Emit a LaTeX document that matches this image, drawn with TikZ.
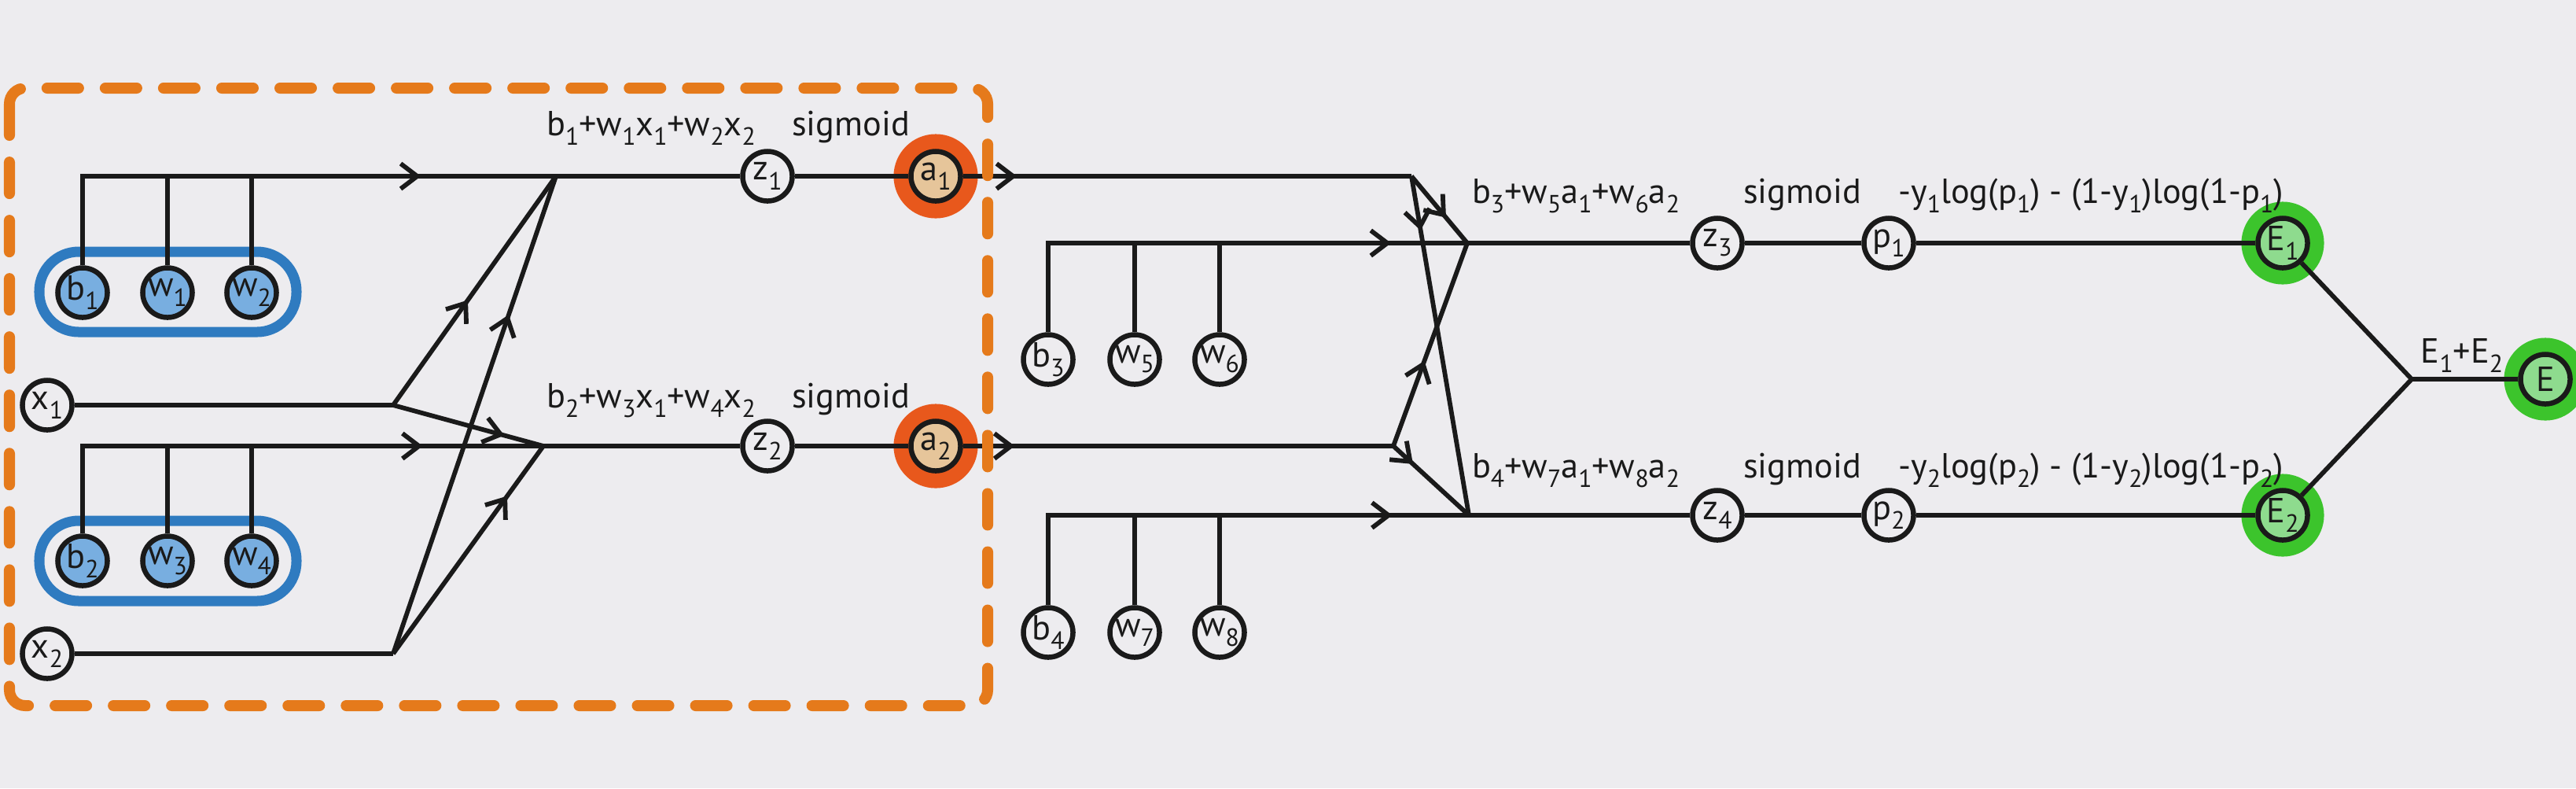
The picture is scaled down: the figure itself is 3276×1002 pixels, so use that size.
\documentclass[tikz,border=0pt]{standalone}
\usepackage{fontspec}
\setmainfont{PT Sans}
\usetikzlibrary{arrows.meta,decorations.markings}
\definecolor{bgc}{HTML}{EDECEF}
\definecolor{dashor}{HTML}{E57A1B}
\definecolor{ringor}{HTML}{E8581C}
\definecolor{tanfill}{HTML}{E6C59A}
\definecolor{bluebox}{HTML}{2F7BC0}
\definecolor{bluefill}{HTML}{78AEE0}
\definecolor{ringgr}{HTML}{3CC42C}
\definecolor{grfill}{HTML}{8EDB8E}
\definecolor{ink}{HTML}{1A1A1A}
\newcommand{\sbs}[1]{\raisebox{-0.55ex}{\fontsize{9}{10}\selectfont #1}}
\begin{document}
\begin{tikzpicture}[x=0.01cm,y=-0.01cm,
  every node/.style={font=\fontsize{12.6}{15}\selectfont, text=ink},
  nd/.style={circle, draw=ink, line width=0.065cm, minimum size=0.63cm, inner sep=0pt, fill=bgc},
  pnode/.style={nd, fill=bluefill},
  actnode/.style={nd, fill=tanfill, preaction={draw=ringor, line width=0.44cm}},
  errnode/.style={nd, fill=grfill, preaction={draw=ringgr, line width=0.42cm}},
  ln/.style={draw=ink, line width=0.058cm},
  midarrow/.style={postaction={decorate, decoration={markings,
     mark=at position #1 with {\arrow{Straight Barb[length=0.21cm,width=0.32cm,line width=0.058cm]}}}}},
  lbl/.style={anchor=base, inner sep=0pt}
]
\useasboundingbox (0,0) rectangle (3276,1002);
\clip (0,0) rectangle (3276,1002);
\fill[bgc] (0,0) rectangle (3276,1002);

% blue groups
\draw[bluebox, line width=0.13cm, rounded corners=0.5cm] (50,320) rectangle (377,422);
\draw[bluebox, line width=0.13cm, rounded corners=0.5cm] (50,662) rectangle (377,764);

% nodes
\node[pnode] (b1) at (105,372) {b\sbs{1}};
\node[pnode] (w1) at (213,372) {w\sbs{1}};
\node[pnode] (w2) at (320,372) {w\sbs{2}};
\node[pnode] (b2) at (105,713) {b\sbs{2}};
\node[pnode] (w3) at (213,713) {w\sbs{3}};
\node[pnode] (w4) at (320,713) {w\sbs{4}};
\node[nd] (x1) at (60,515) {x\sbs{1}};
\node[nd] (x2) at (60,831) {x\sbs{2}};
\node[nd] (z1) at (976,224) {z\sbs{1}};
\node[nd] (z2) at (976,567) {z\sbs{2}};
\node[actnode] (a1) at (1190,224) {a\sbs{1}};
\node[actnode] (a2) at (1190,567) {a\sbs{2}};
\node[nd] (b3) at (1333,457) {b\sbs{3}};
\node[nd] (w5) at (1443,457) {w\sbs{5}};
\node[nd] (w6) at (1551,457) {w\sbs{6}};
\node[nd] (b4) at (1333,804) {b\sbs{4}};
\node[nd] (w7) at (1443,804) {w\sbs{7}};
\node[nd] (w8) at (1551,804) {w\sbs{8}};
\node[nd] (z3) at (2184,309) {z\sbs{3}};
\node[nd] (z4) at (2184,655) {z\sbs{4}};
\node[nd] (p1) at (2402,309) {p\sbs{1}};
\node[nd] (p2) at (2402,655) {p\sbs{2}};
\node[errnode] (E1) at (2903,309) {E\sbs{1}};
\node[errnode] (E2) at (2903,655) {E\sbs{2}};
\node[errnode] (E) at (3237,482) {E};

% junction points
\coordinate (c1) at (707,224);
\coordinate (c2) at (691,567);
\coordinate (bx1) at (500,515);
\coordinate (bx2) at (500,831);
\coordinate (c3) at (1795,224);
\coordinate (e2) at (1772,567);
\coordinate (d3) at (1866,309);
\coordinate (d4) at (1868,655);
\coordinate (J) at (3067,482);

% layer 1
\draw[ln, midarrow=0.76] (b1) |- (c1);
\draw[ln] (w1) -- (w1 |- c1);
\draw[ln] (w2) -- (w2 |- c1);
\draw[ln, midarrow=0.78] (b2) |- (c2);
\draw[ln] (w3) -- (w3 |- c2);
\draw[ln] (w4) -- (w4 |- c2);
\draw[ln] (x1) -- (bx1);
\draw[ln] (x2) -- (bx2);
\draw[ln, midarrow=0.46] (bx1) -- (c1);
\draw[ln, midarrow=0.74] (bx1) -- (c2);
\draw[ln, midarrow=0.71] (bx2) -- (c1);
\draw[ln, midarrow=0.76] (bx2) -- (c2);
\draw[ln] (c1) -- (z1);
\draw[ln] (z1) -- (a1);
\draw[ln] (c2) -- (z2);
\draw[ln] (z2) -- (a2);

% layer 2
\draw[ln, midarrow=0.12] (a1) -- (c3);
\draw[ln, midarrow=0.12] (a2) -- (e2);
\draw[ln, midarrow=0.62] (c3) -- (d3);
\draw[ln, midarrow=0.16] (c3) -- (d4);
\draw[ln, midarrow=0.42] (e2) -- (d3);
\draw[ln, midarrow=0.26] (e2) -- (d4);
\draw[ln, midarrow=0.85] (b3) |- (d3);
\draw[ln] (w5) -- (w5 |- d3);
\draw[ln] (w6) -- (w6 |- d3);
\draw[ln, midarrow=0.85] (b4) |- (d4);
\draw[ln] (w7) -- (w7 |- d4);
\draw[ln] (w8) -- (w8 |- d4);
\draw[ln] (d3) -- (z3);
\draw[ln] (z3) -- (p1);
\draw[ln] (p1) -- (E1);
\draw[ln] (d4) -- (z4);
\draw[ln] (z4) -- (p2);
\draw[ln] (p2) -- (E2);
\draw[ln] (E1) -- (J);
\draw[ln] (E2) -- (J);
\draw[ln] (J) -- (E);

% labels
\node[lbl] (l1) at (828,172) {b\sbs{1}+w\sbs{1}x\sbs{1}+w\sbs{2}x\sbs{2}};
\node[lbl] (s1) at (1082,172) {sigmoid};
\node[lbl] (l2) at (828,518) {b\sbs{2}+w\sbs{3}x\sbs{1}+w\sbs{4}x\sbs{2}};
\node[lbl] (s2) at (1082,518) {sigmoid};
\node[lbl] (l3) at (2004,258) {b\sbs{3}+w\sbs{5}a\sbs{1}+w\sbs{6}a\sbs{2}};
\node[lbl] (s3) at (2292,258) {sigmoid};
\node[lbl] (q1) at (2659,258) {-y\sbs{1}log(p\sbs{1}) - (1-y\sbs{1})log(1-p\sbs{1})};
\node[lbl] (l4) at (2004,607) {b\sbs{4}+w\sbs{7}a\sbs{1}+w\sbs{8}a\sbs{2}};
\node[lbl] (s4) at (2292,607) {sigmoid};
\node[lbl] (q2) at (2659,607) {-y\sbs{2}log(p\sbs{2}) - (1-y\sbs{2})log(1-p\sbs{2})};
\node[lbl] (ls) at (3131,461) {E\sbs{1}+E\sbs{2}};

% orange dashed group
\draw[dashor, line width=0.14cm, dash pattern=on 0.4cm off 0.34cm, line cap=round, rounded corners=0.2cm] (12,112) rectangle (1256,897);
\end{tikzpicture}
\end{document}
